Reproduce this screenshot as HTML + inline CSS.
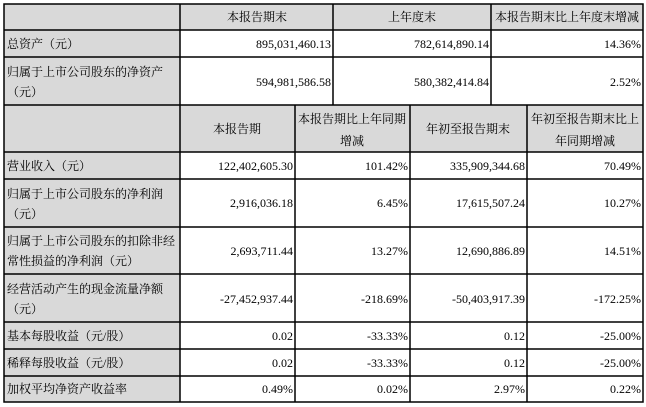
<!DOCTYPE html>
<html><head><meta charset="utf-8"><style>
html,body{margin:0;padding:0;background:#fff;}
svg{display:block;}
text{font-size:12px;fill:#000;}
.c{font-family:"Liberation Serif","Noto Serif CJK SC",serif;}
.n{font-family:"Liberation Serif",serif;text-anchor:end;}
.m{text-anchor:middle;}
</style></head><body>
<svg width="646" height="407" viewBox="0 0 646 407" xmlns="http://www.w3.org/2000/svg">
<rect x="0" y="0" width="646" height="407" fill="#fff"/>
<!-- gray header rows -->
<rect x="4" y="4" width="639" height="26" fill="#d9d9d9"/>
<rect x="4" y="105" width="639" height="47" fill="#d9d9d9"/>
<!-- gray label column -->
<rect x="4" y="30" width="176" height="75" fill="#d9d9d9"/>
<rect x="4" y="152" width="176" height="250" fill="#d9d9d9"/>
<g stroke="#000" stroke-width="1.5" fill="none">
<rect x="4" y="4" width="639" height="398"/>
<line x1="4" y1="30" x2="643" y2="30"/>
<line x1="4" y1="57" x2="643" y2="57"/>
<line x1="4" y1="105" x2="643" y2="105"/>
<line x1="4" y1="152" x2="643" y2="152"/>
<line x1="4" y1="179" x2="643" y2="179"/>
<line x1="4" y1="227" x2="643" y2="227"/>
<line x1="4" y1="274" x2="643" y2="274"/>
<line x1="4" y1="322" x2="643" y2="322"/>
<line x1="4" y1="349" x2="643" y2="349"/>
<line x1="4" y1="376" x2="643" y2="376"/>
<line x1="180" y1="4" x2="180" y2="402"/>
<line x1="333" y1="4" x2="333" y2="105"/>
<line x1="491" y1="4" x2="491" y2="105"/>
<line x1="295" y1="105" x2="295" y2="402"/>
<line x1="410" y1="105" x2="410" y2="402"/>
<line x1="527" y1="105" x2="527" y2="402"/>
</g>
<g class="c">
<text class="c m" x="257" y="21">本报告期末</text>
<text class="c m" x="412" y="21">上年度末</text>
<text class="c m" x="567" y="21">本报告期末比上年度末增减</text>
<text x="7" y="48">总资产（元）</text>
<text x="7" y="76">归属于上市公司股东的净资产</text>
<text x="7" y="96">（元）</text>
<text class="c m" x="237" y="133">本报告期</text>
<text class="c m" x="352" y="123">本报告期比上年同期</text>
<text class="c m" x="352" y="145">增减</text>
<text class="c m" x="468" y="133">年初至报告期末</text>
<text class="c m" x="585" y="123">年初至报告期末比上</text>
<text class="c m" x="585" y="145">年同期增减</text>
<text x="7" y="170">营业收入（元）</text>
<text x="7" y="198">归属于上市公司股东的净利润</text>
<text x="7" y="218">（元）</text>
<text x="7" y="245">归属于上市公司股东的扣除非经</text>
<text x="7" y="265">常性损益的净利润（元）</text>
<text x="7" y="293">经营活动产生的现金流量净额</text>
<text x="7" y="313">（元）</text>
<text x="7" y="340">基本每股收益（元/股）</text>
<text x="7" y="367">稀释每股收益（元/股）</text>
<text x="7" y="393">加权平均净资产收益率</text>
</g>
<g>
<text class="n" x="331" y="48">895,031,460.13</text>
<text class="n" x="489" y="48">782,614,890.14</text>
<text class="n" x="641" y="48">14.36%</text>
<text class="n" x="331" y="86">594,981,586.58</text>
<text class="n" x="489" y="86">580,382,414.84</text>
<text class="n" x="641" y="86">2.52%</text>
<text class="n" x="293" y="170">122,402,605.30</text>
<text class="n" x="408" y="170">101.42%</text>
<text class="n" x="525" y="170">335,909,344.68</text>
<text class="n" x="641" y="170">70.49%</text>
<text class="n" x="293" y="207">2,916,036.18</text>
<text class="n" x="408" y="207">6.45%</text>
<text class="n" x="525" y="207">17,615,507.24</text>
<text class="n" x="641" y="207">10.27%</text>
<text class="n" x="293" y="255">2,693,711.44</text>
<text class="n" x="408" y="255">13.27%</text>
<text class="n" x="525" y="255">12,690,886.89</text>
<text class="n" x="641" y="255">14.51%</text>
<text class="n" x="293" y="303">-27,452,937.44</text>
<text class="n" x="408" y="303">-218.69%</text>
<text class="n" x="525" y="303">-50,403,917.39</text>
<text class="n" x="641" y="303">-172.25%</text>
<text class="n" x="293" y="340">0.02</text>
<text class="n" x="408" y="340">-33.33%</text>
<text class="n" x="525" y="340">0.12</text>
<text class="n" x="641" y="340">-25.00%</text>
<text class="n" x="293" y="367">0.02</text>
<text class="n" x="408" y="367">-33.33%</text>
<text class="n" x="525" y="367">0.12</text>
<text class="n" x="641" y="367">-25.00%</text>
<text class="n" x="293" y="393">0.49%</text>
<text class="n" x="408" y="393">0.02%</text>
<text class="n" x="525" y="393">2.97%</text>
<text class="n" x="641" y="393">0.22%</text>
</g>
</svg>
</body></html>
